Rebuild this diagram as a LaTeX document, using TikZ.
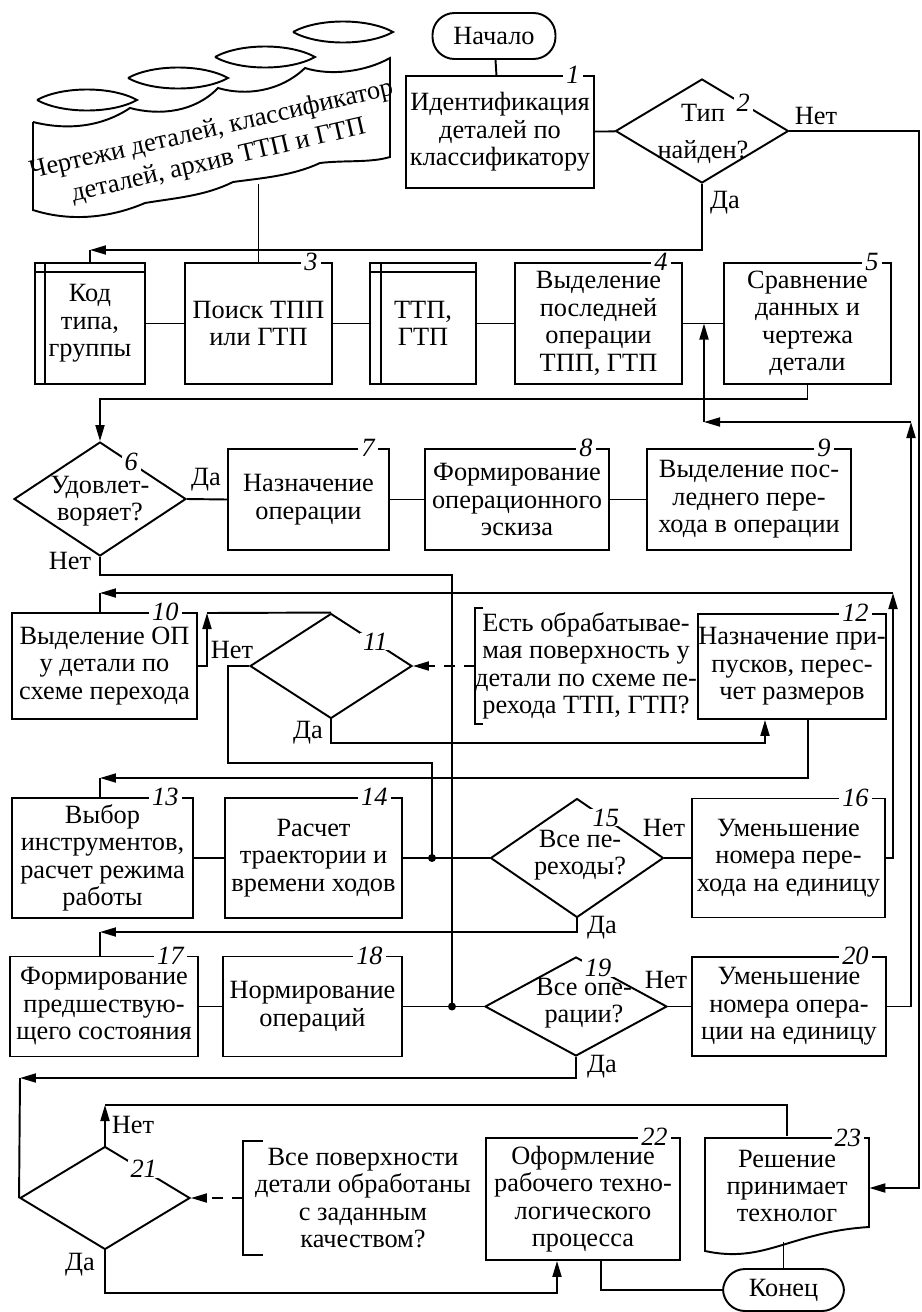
\documentclass[tikz,border=0pt]{standalone}
\usepackage{fontspec}
\setmainfont{Liberation Serif}
\usetikzlibrary{positioning,calc,arrows.meta,shapes.geometric}

\newcommand\figfont{\fontsize{15pt}{15.6pt}\selectfont}

\tikzset{
  line/.style={line width=1.1pt},
  arr/.style={line, -{Triangle[length=3.2mm,width=1.8mm]}},
  dashline/.style={arr, dash pattern=on 0.22cm off 0.18cm},
  box/.style={draw, line, rectangle, align=center, inner sep=0pt},
  term/.style={box, rounded corners=0.44cm},
  decision/.style={draw, line, diamond, inner sep=0pt},
  lbl/.style={align=center, inner sep=0pt},
  comment/.style={align=center, inner sep=0pt},
  num/.style={fill=white, inner xsep=0.06cm, inner ysep=0pt, font=\figfont\itshape},
}

\begin{document}
\begin{tikzpicture}[x=0.02cm, y=-0.02cm, font=\figfont]

  \useasboundingbox (0,0) rectangle (922,1312);

  % archive
  \foreach \cx/\cy in {87/100, 178/78, 265/57, 343/32}
    \draw[line] (\cx-50,\cy) .. controls (\cx-25,\cy-14) and (\cx+25,\cy-14) .. (\cx+50,\cy)
      .. controls (\cx+25,\cy+14) and (\cx-25,\cy+14) .. (\cx-50,\cy);
  \draw[line] (33,122) -- (33,210)
    .. controls (70,222) and (110,218) .. (145,203)
    .. controls (175,198) and (205,196) .. (233,182)
    .. controls (262,178) and (292,176) .. (320,163)
    .. controls (345,160) and (370,163) .. (390,157)
    -- (390,58)
    .. controls (365,72) and (330,76) .. (305,68)
    .. controls (280,92) and (245,96) .. (218,88)
    .. controls (195,112) and (160,116) .. (130,108)
    .. controls (100,128) and (65,130) .. (33,122);
  \node[lbl, rotate=13] (tdb) at (215,146) {Чертежи деталей, классификатор\\[0.08cm]деталей, архив ТТП и ГТП};

  % top
  \node[term, minimum width=2.46cm, minimum height=0.92cm] (start) at (494,36) {Начало};
  \node[box, minimum width=3.76cm, minimum height=2.24cm] (b1) at (500,132) {Идентификация\\деталей по\\классификатору};
  \node[decision, minimum width=3.46cm, minimum height=2.08cm] (d2) at (702,131) {};
  \node[lbl] (t2) at (703,134) {Тип\\[0.2cm]найден?};

  % row 1
  \node[box, minimum width=2.2cm, minimum height=2.42cm] (kod) at (90,323.5) {Код\\типа,\\группы};
  \node[box, minimum width=2.94cm, minimum height=2.42cm] (b3) at (258.5,323.5) {Поиск ТПП\\или ГТП};
  \node[box, minimum width=2.12cm, minimum height=2.42cm] (ttp) at (423,323.5) {ТТП,\\ГТП};
  \node[box, minimum width=3.34cm, minimum height=2.42cm] (b4) at (598.5,323.5) {Выделение\\последней\\операции\\ТПП, ГТП};
  \node[box, minimum width=3.34cm, minimum height=2.42cm] (b5) at (807.5,323.5) {Сравнение\\данных и\\чертежа\\детали};
  \draw[line] ([xshift=0.22cm]kod.north west) -- ([xshift=0.22cm]kod.south west);
  \draw[line] ([yshift=-0.2cm]kod.north west) -- ([yshift=-0.2cm]kod.north east);
  \draw[line] ([xshift=0.24cm]ttp.north west) -- ([xshift=0.24cm]ttp.south west);
  \draw[line] ([yshift=-0.2cm]ttp.north west) -- ([yshift=-0.2cm]ttp.north east);

  % row 2
  \node[decision, minimum width=3.44cm, minimum height=2.28cm] (d6) at (100,499) {};
  \node[lbl] (t6) at (100,501) {Удовлет-\\воряет?};
  \node[box, minimum width=3.22cm, minimum height=2.02cm] (b7) at (308.5,499.5) {Назначение\\операции};
  \node[box, minimum width=3.68cm, minimum height=2.02cm] (b8) at (517,499.5) {Формирование\\операционного\\эскиза};
  \node[box, minimum width=4.08cm, minimum height=2.02cm] (b9) at (749,499.5) {Выделение пос-\\леднего пере-\\хода в операции};

  % row 3
  \node[box, minimum width=3.7cm, minimum height=2.12cm] (b10) at (104.5,666) {Выделение ОП\\у детали по\\схеме перехода};
  \node[decision, minimum width=3.24cm, minimum height=2.1cm] (d11) at (331,666) {};
  \node[comment, minimum width=4.44cm, minimum height=2.3cm] (com11) at (586,666) {Есть обрабатывае-\\мая поверхность у\\детали по схеме пе-\\рехода ТТП, ГТП?};
  \node[box, minimum width=3.76cm, minimum height=2.1cm] (b12) at (792,666.5) {Назначение при-\\пусков, перес-\\чет размеров};

  % row 4
  \node[box, minimum width=3.62cm, minimum height=2.4cm] (b13) at (102.5,858) {Выбор\\инструментов,\\расчет режима\\работы};
  \node[box, minimum width=3.54cm, minimum height=2.4cm] (b14) at (313.5,858) {Расчет\\траектории и\\времени ходов};
  \node[decision, minimum width=3.46cm, minimum height=2.38cm] (d15) at (577,858) {};
  \node[lbl] (t15) at (580,855) {Все пе-\\реходы?};
  \node[box, minimum width=3.86cm, minimum height=2.38cm] (b16) at (788.5,858) {Уменьшение\\номера пере-\\хода на единицу};

  % row 5
  \node[box, minimum width=3.76cm, minimum height=2cm] (b17) at (104,1006.5) {Формирование\\предшествую-\\щего состояния};
  \node[box, minimum width=3.58cm, minimum height=2cm] (b18) at (312.5,1006.5) {Нормирование\\операций};
  \node[decision, minimum width=3.64cm, minimum height=1.98cm] (d19) at (576,1006.5) {};
  \node[lbl] (t19) at (584,1003) {Все опе-\\рации?};
  \node[box, minimum width=3.88cm, minimum height=1.98cm] (b20) at (789,1006.5) {Уменьшение\\номера опера-\\ции на единицу};

  % row 6
  \node[decision, minimum width=3.4cm, minimum height=2.06cm] (d21) at (105,1198) {};
  \node[comment, minimum width=4.8cm, minimum height=2.26cm] (com21) at (363,1198) {Все поверхности\\детали обработаны\\с заданным\\качеством?};
  \node[box, minimum width=3.88cm, minimum height=2.44cm] (b22) at (583,1199) {Оформление\\рабочего техно-\\логического\\процесса};
  \node[lbl, minimum width=3.28cm, minimum height=2cm] (b23) at (787,1186) {Решение\\принимает\\технолог};
  \draw[line] (705,1138) -- (869,1138) -- (869,1227)
    .. controls (790,1232) and (765,1264) .. (705,1251) -- cycle;
  \node[term, minimum width=2.42cm, minimum height=0.84cm] (endn) at (783.5,1290) {Конец};

  % comment brackets
  \draw[line] ([xshift=0.16cm]com11.north west) -- (com11.north west) -- (com11.south west) -- ([xshift=0.16cm]com11.south west);
  \draw[line] ([xshift=0.4cm]com21.north west) -- (com21.north west) -- (com21.south west) -- ([xshift=0.4cm]com21.south west);

  % bends
  \coordinate (k1) at (90,250);
  \coordinate (r1) at (919,1188);
  \coordinate (c2) at (911,422);
  \coordinate (c3) at (704,422);
  \coordinate (c5) at (452,575);
  \coordinate (c6) at (893,593);
  \coordinate (c7) at (100,593);
  \coordinate (c8) at (207,613);
  \coordinate (c9) at (228,763);
  \coordinate (c10) at (765,743);
  \coordinate (c11) at (100,778);
  \coordinate (c12) at (20,1078);
  \coordinate (c13) at (105,1105);
  \coordinate (c14) at (100,932);
  \coordinate (c15) at (557,1293);
  \coordinate (j1) at (432,858);
  \coordinate (j2) at (452,1006.5);

  % connectors
  \draw[line] (start) -- (b1);
  \draw[line] (b1) -- (d2);
  \draw[arr] (d2.east) -| (r1) -- (b23.east |- r1);
  \draw[arr] (d2.south) |- (k1);
  \draw[line] (k1) -- (kod.north);
  \draw[line] (b3.north) -- ++(0,-78);
  \draw[line] (kod) -- (b3);
  \draw[line] (b3) -- (ttp);
  \draw[line] (ttp) -- (b4);
  \draw[line] (b4) -- (b5);
  \draw[arr] (b5.south) -- ++(0,14) -| (d6.north);
  \draw[arr] (b20.east) -| (c2);
  \draw[arr] (c2) -- (c3);
  \draw[arr] (c3) -- (c3 |- b5.west);

  \draw[line] (d6.east) -- (b7.west);
  \draw[line] (b7) -- (b8);
  \draw[line] (b8) -- (b9);
  \draw[line] (d6.south) |- (c5) -- (j2);
  \draw[line] ($(b9.south)+(-14,0)$) -- ($(b9.south)+(-14,0)$ |- c6);
  \draw[arr] (b16.east) -| (c6);
  \draw[arr] (c6) -- (c7);
  \draw[line] (c7) -- (c7 |- b10.north);

  \draw[arr] (b10.east) -| (c8);
  \draw[line] (c8) -- (d11.north);
  \draw[line] (d11.west) -| (c9) -| (j1);
  \draw[arr] (d11.south) |- (c10) -- (c10 |- b12.south);
  \draw[dashline] (com11.west) -- (d11.east);
  \draw[arr] ($(b12.south)+(16,0)$) |- (c11);
  \draw[line] (c11) -- (c11 |- b13.north);

  \draw[line] (b13) -- (b14);
  \draw[line] (b14.east) -- (d15.west);
  \draw[line] (d15.east) -- (b16.west);
  \draw[arr] (d15.south) |- (c14);
  \draw[line] (c14) -- (c14 |- b17.north);

  \draw[line] (b17) -- (b18);
  \draw[line] (b18.east) -- (d19.west);
  \draw[line] (d19.east) -- (b20.west);
  \draw[arr] (d19.south) |- (c12);
  \draw[line] (c12) -- (d21.west);

  \draw[arr] (d21.north) -- (c13);
  \draw[line] (c13) -| (b23.north);
  \draw[arr] (d21.south) |- (c15) -- (c15 |- b22.south);
  \draw[dashline] (com21.west) -- (d21.east);
  \draw[line] ($(b22.south)+(18,0)$) |- (endn.west);
  \draw[line] (endn.north) -- ++(0,-26);

  \fill (j1) circle (0.08cm);
  \fill (j2) circle (0.08cm);

  % branch labels
  \node[lbl] (l2n) at (816,116) {Нет};
  \node[lbl] (l2y) at (725,203) {Да};
  \node[lbl] (l6y) at (206,480) {Да};
  \node[lbl] (l6n) at (70,561) {Нет};
  \node[lbl] (l11n) at (232,650) {Нет};
  \node[lbl] (l11y) at (308,733) {Да};
  \node[lbl] (l15n) at (664,828) {Нет};
  \node[lbl] (l15y) at (602,928) {Да};
  \node[lbl] (l19n) at (666,980) {Нет};
  \node[lbl] (l19y) at (602,1067) {Да};
  \node[lbl] (l21n) at (133,1125) {Нет};
  \node[lbl] (l21y) at (80,1265) {Да};

  % block numbers
  \node[num, anchor=east] (n1) at ([xshift=-0.24cm]b1.north east) {1};
  \node[num] (n2) at ($(d2.north)!0.47!(d2.east)$) {2};
  \node[num, anchor=east] (n3) at ([xshift=-0.24cm]b3.north east) {3};
  \node[num, anchor=east] (n4) at ([xshift=-0.24cm]b4.north east) {4};
  \node[num, anchor=east] (n5) at ([xshift=-0.2cm]b5.north east) {5};
  \node[num] (n6) at ($(d6.north)!0.36!(d6.east)$) {6};
  \node[num, anchor=east] (n7) at ([xshift=-0.24cm]b7.north east) {7};
  \node[num, anchor=east] (n8) at ([xshift=-0.28cm]b8.north east) {8};
  \node[num, anchor=east] (n9) at ([xshift=-0.36cm]b9.north east) {9};
  \node[num, anchor=east] (n10) at ([xshift=-0.32cm]b10.north east) {10};
  \node[num] (n11) at ($(d11.north)!0.54!(d11.east)$) {11};
  \node[num, anchor=east] (n12) at ([xshift=-0.3cm]b12.north east) {12};
  \node[num, anchor=east] (n13) at ([xshift=-0.24cm]b13.north east) {13};
  \node[num, anchor=east] (n14) at ([xshift=-0.24cm]b14.north east) {14};
  \node[num] (n15) at ($(d15.north)!0.33!(d15.east)$) {15};
  \node[num, anchor=east] (n16) at ([xshift=-0.28cm]b16.north east) {16};
  \node[num, anchor=east] (n17) at ([xshift=-0.24cm]b17.north east) {17};
  \node[num, anchor=east] (n18) at ([xshift=-0.34cm]b18.north east) {18};
  \node[num] (n19) at ($(d19.north)!0.24!(d19.east)$) {19};
  \node[num, anchor=east] (n20) at ([xshift=-0.3cm]b20.north east) {20};
  \node[num] (n21) at ($(d21.north)!0.45!(d21.east)$) {21};
  \node[num, anchor=east] (n22) at ([xshift=-0.2cm]b22.north east) {22};
  \node[num, anchor=east] (n23) at ([xshift=-0.1cm]b23.north east |- 0,1138) {23};

\end{tikzpicture}
\end{document}
